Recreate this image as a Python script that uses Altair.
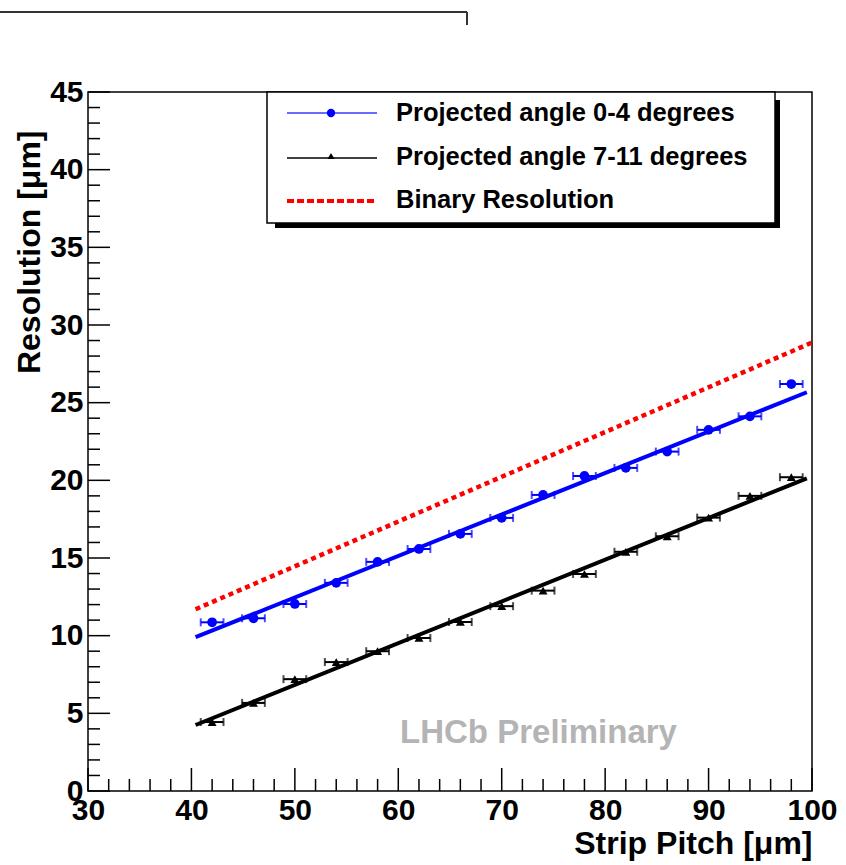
import altair as alt
import pandas as pd

# ---- data ----
pitch = [42, 46, 50, 54, 58, 62, 66, 70, 74, 78, 82, 86, 90, 94, 98]
res_blue = [10.86, 11.12, 12.04, 13.40, 14.75, 15.58, 16.55, 17.58, 19.06, 20.28, 20.80, 21.85, 23.25, 24.12, 26.20]
res_black = [4.44, 5.67, 7.20, 8.30, 9.00, 9.85, 10.88, 11.90, 12.90, 13.97, 15.40, 16.40, 17.60, 19.00, 20.20]
pitch_err = 1.1

fit_blue_x = [40.4, 99.5]
fit_blue_y = [9.90, 25.67]
fit_black_x = [40.4, 99.5]
fit_black_y = [4.25, 20.13]
binary_x = [40.4, 100.0]
binary_y = [11.70, 28.87]

x_major = [30, 40, 50, 60, 70, 80, 90, 100]
x_minor = [v for v in range(32, 100, 2) if v % 10 != 0]
y_major = [0, 5, 10, 15, 20, 25, 30, 35, 40, 45]
y_minor = [v for v in range(1, 45) if v % 5 != 0]

legend_labels = ["Projected angle 0-4 degrees", "Projected angle 7-11 degrees", "Binary Resolution"]
x_title = "Strip Pitch [\u03bcm]"
y_title = "Resolution [\u03bcm]"
watermark = "LHCb Preliminary"

FONT = "Liberation Sans"
W, H = 724, 699

xs = alt.Scale(domain=[30, 100], nice=False, zero=False)
ys = alt.Scale(domain=[0, 45], nice=False, zero=False)

df_blue = pd.DataFrame({"x": pitch, "y": res_blue})
df_blue["lo"] = df_blue["x"] - pitch_err
df_blue["hi"] = df_blue["x"] + pitch_err
df_black = pd.DataFrame({"x": pitch, "y": res_black})
df_black["lo"] = df_black["x"] - pitch_err
df_black["hi"] = df_black["x"] + pitch_err

dummy = alt.Data(values=[{}])

x_axis = alt.Axis(
    title=x_title, values=x_major, ticks=False, domain=False, grid=False,
    labelFont=FONT, labelFontSize=30, labelFontWeight="bold", labelColor="black",
    labelPadding=4, labelBaseline="top", labelFlush=False, labelOverlap=False,
    titleFont=FONT, titleFontSize=32, titleFontWeight="bold", titleColor="black",
    titleX=W, titleY=62, titleAlign="right", titleBaseline="alphabetic", titleAngle=0,
)
y_axis = alt.Axis(
    title=y_title, values=y_major, ticks=False, domain=False, grid=False,
    labelFont=FONT, labelFontSize=30, labelFontWeight="bold", labelColor="black",
    labelPadding=5, labelFlush=False, labelOverlap=False,
    titleFont=FONT, titleFontSize=32, titleFontWeight="bold", titleColor="black",
    titleAngle=270, titleAlign="right", titleBaseline="middle", titleX=-59, titleY=38,
)

def X(field):
    return alt.X(field, scale=xs, axis=x_axis, title=x_title)

def Y(field):
    return alt.Y(field, scale=ys, axis=y_axis, title=y_title)

# ---- axis ticks (inward) ----
def xticks(vals, length):
    return alt.Chart(pd.DataFrame({"v": vals})).mark_rule(color="black", strokeWidth=1.5).encode(
        x=X("v:Q"), y=alt.value(H), y2=alt.value(H - length))

def yticks(vals, length):
    return alt.Chart(pd.DataFrame({"v": vals})).mark_rule(color="black", strokeWidth=1.5).encode(
        y=Y("v:Q"), x=alt.value(0), x2=alt.value(length))

# ---- lines ----
def line(xv, yv, color, width, dash=None):
    kw = dict(color=color, strokeWidth=width, clip=True)
    if dash:
        kw["strokeDash"] = dash
    return alt.Chart(pd.DataFrame({"x": xv, "y": yv})).mark_line(**kw).encode(
        x=X("x:Q"), y=Y("y:Q"))

def errbars(df, color):
    bars = alt.Chart(df).mark_rule(color=color, strokeWidth=2).encode(
        x=X("lo:Q"), x2="hi:Q", y=Y("y:Q"))
    cap_lo = alt.Chart(df).mark_tick(color=color, orient="vertical", size=8, thickness=2).encode(
        x=X("lo:Q"), y=Y("y:Q"))
    cap_hi = alt.Chart(df).mark_tick(color=color, orient="vertical", size=8, thickness=2).encode(
        x=X("hi:Q"), y=Y("y:Q"))
    return bars + cap_lo + cap_hi

pts_blue = alt.Chart(df_blue).mark_point(shape="circle", filled=True, size=95, color="#0000ff", opacity=1).encode(
    x=X("x:Q"), y=Y("y:Q"))
pts_black = alt.Chart(df_black).mark_point(shape="triangle-up", filled=True, size=80, color="black", opacity=1).encode(
    x=X("x:Q"), y=Y("y:Q"))

# ---- legend (drawn by hand, ROOT style) ----
shadow = alt.Chart(dummy).mark_rect(color="black").encode(
    x=alt.value(187), x2=alt.value(692), y=alt.value(8), y2=alt.value(136))
box = alt.Chart(dummy).mark_rect(fill="white", stroke="black", strokeWidth=1.5).encode(
    x=alt.value(179), x2=alt.value(687), y=alt.value(0), y2=alt.value(131))
lg_blue_line = alt.Chart(dummy).mark_rule(color="#3a3aff", strokeWidth=1.5).encode(
    x=alt.value(199), x2=alt.value(289), y=alt.value(21))
lg_blue_pt = alt.Chart(dummy).mark_point(shape="circle", filled=True, size=70, color="#0000ff", opacity=1).encode(
    x=alt.value(243), y=alt.value(21))
lg_black_line = alt.Chart(dummy).mark_rule(color="black", strokeWidth=1.5).encode(
    x=alt.value(199), x2=alt.value(289), y=alt.value(66))
lg_black_pt = alt.Chart(dummy).mark_point(shape="triangle-up", filled=True, size=50, color="black", opacity=1).encode(
    x=alt.value(243), y=alt.value(64))
lg_red_line = alt.Chart(dummy).mark_rule(color="#ff0000", strokeWidth=4, strokeDash=[7, 3]).encode(
    x=alt.value(199), x2=alt.value(289), y=alt.value(109))

def lg_text(label, ypix):
    return alt.Chart(dummy).mark_text(
        font=FONT, fontSize=25.5, fontWeight="bold", color="black", align="left", baseline="alphabetic"
    ).encode(x=alt.value(308), y=alt.value(ypix), text=alt.value(label))

wm = alt.Chart(pd.DataFrame({"x": [60.17], "y": [3.1], "t": [watermark]})).mark_text(
    font=FONT, fontSize=33, fontWeight="bold", color="#b4b4b4", align="left", baseline="alphabetic"
).encode(x=X("x:Q"), y=Y("y:Q"), text="t:N")

# slide decoration line at the top
deco_h = alt.Chart(dummy).mark_rule(color="#333333", strokeWidth=2).encode(
    x=alt.value(-88), x2=alt.value(379), y=alt.value(-80))
deco_v = alt.Chart(dummy).mark_rule(color="#333333", strokeWidth=2).encode(
    x=alt.value(379), y=alt.value(-80), y2=alt.value(-67))

chart = alt.layer(
    pts_blue,
    xticks(x_major, 23), xticks(x_minor, 12), yticks(y_major, 22), yticks(y_minor, 12),
    line(binary_x, binary_y, "#ff0000", 4.5, [5, 4]),
    line(fit_blue_x, fit_blue_y, "#0000ff", 4),
    line(fit_black_x, fit_black_y, "black", 4),
    errbars(df_blue, "#0000ff"), errbars(df_black, "black"),
    pts_black,
    shadow, box, lg_blue_line, lg_blue_pt, lg_black_line, lg_black_pt, lg_red_line,
    lg_text(legend_labels[0], 29), lg_text(legend_labels[1], 73), lg_text(legend_labels[2], 116),
    wm, deco_h, deco_v,
).properties(
    width=W, height=H,
    autosize=alt.AutoSizeParams(type="none"),
    padding={"left": 88, "top": 92, "right": 34, "bottom": 74},
    background="white",
).configure_view(stroke="black", strokeWidth=1.5)

chart.save("out.html", embed_options={"renderer": "svg", "actions": False})
